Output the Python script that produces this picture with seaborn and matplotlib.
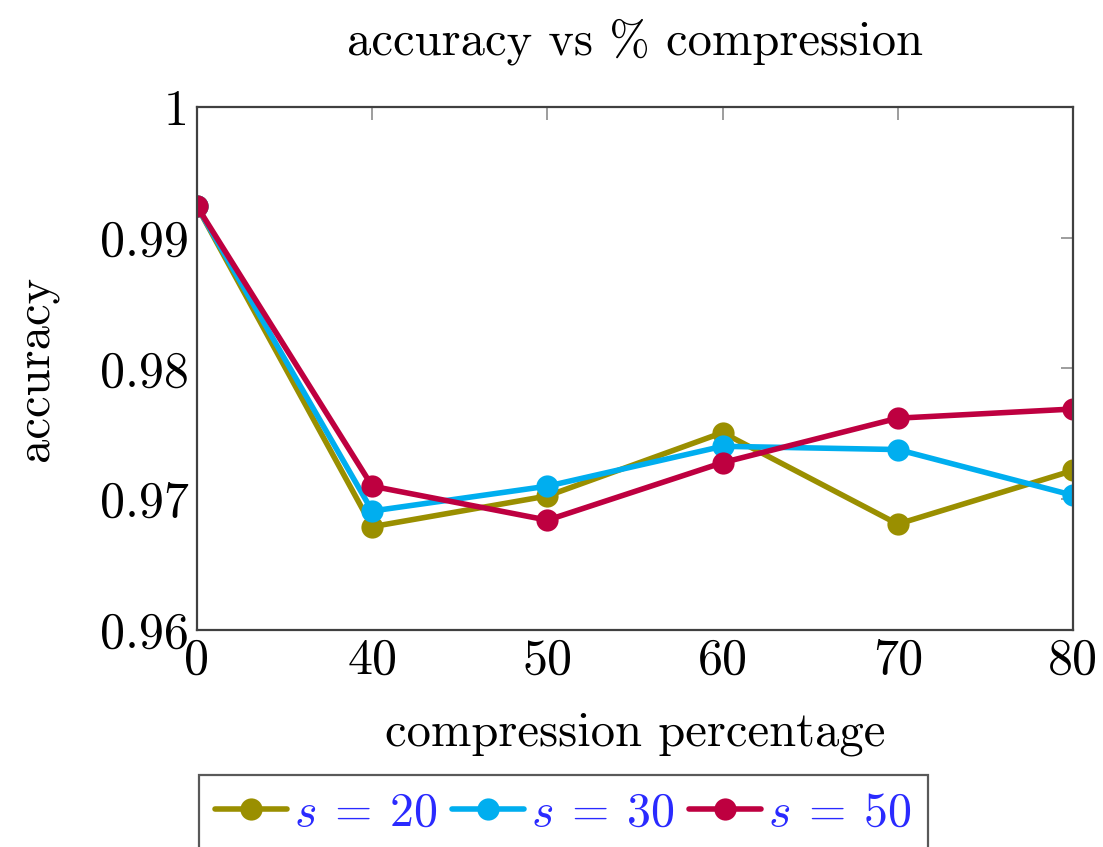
import matplotlib
matplotlib.use("Agg")
import matplotlib.pyplot as plt
import seaborn as sns
import pandas as pd
import numpy as np

categories = ["0", "40", "50", "60", "70", "80"]
s20 = [0.9924, 0.9679, 0.97025, 0.9751, 0.9681, 0.9722]
s30 = [0.9924, 0.9691, 0.9710, 0.97405, 0.9738, 0.9703]
s50 = [0.9924, 0.9710, 0.9684, 0.9728, 0.9762, 0.9769]
series_names = [r"$s\:=\:20$", r"$s\:=\:30$", r"$s\:=\:50$"]
colors = ["#9A8F00", "#00AEEF", "#BE0040"]
yticks = [0.96, 0.97, 0.98, 0.99, 1.0]
ytick_labels = ["0.96", "0.97", "0.98", "0.99", "1"]

sns.set_style("white")
plt.rcParams["font.family"] = ["serif"]
plt.rcParams["font.serif"] = ["cmr10"]
plt.rcParams["mathtext.fontset"] = "cm"
plt.rcParams["axes.unicode_minus"] = False
plt.rcParams["text.color"] = "black"
plt.rcParams["axes.labelcolor"] = "black"
plt.rcParams["xtick.color"] = "black"
plt.rcParams["ytick.color"] = "black"

rows = []
for name, vals in zip(series_names, [s20, s30, s50]):
    for i, v in enumerate(vals):
        rows.append({"pos": i, "accuracy": v, "series": name})
df = pd.DataFrame(rows)

fig = plt.figure(figsize=(11.03, 8.47), dpi=100)
ax = fig.add_axes([0.1786, 0.2562, 0.7942, 0.6175])

sns.lineplot(data=df, x="pos", y="accuracy", hue="series", palette=colors,
             marker="o", markersize=16, markeredgewidth=0, linewidth=4.0,
             ax=ax, legend=True)

ax.set_xlim(0, len(categories) - 1)
ax.set_ylim(0.96, 1.0)
ax.set_xticks(range(len(categories)))
ax.set_xticklabels(categories)
ax.set_yticks(yticks)
ax.set_yticklabels(ytick_labels)
ax.tick_params(direction="in", length=9, width=1.2, color="#8c8c8c",
               labelcolor="black", top=True, right=True, labelsize=36, pad=6)
for sp in ax.spines.values():
    sp.set_color("#404040")
    sp.set_linewidth(1.6)
    sp.set_visible(True)

ax.set_xlabel("compression percentage", fontsize=35, labelpad=20, color="black")
ax.set_ylabel("accuracy", fontsize=35, labelpad=30, color="black")
ax.set_title("accuracy vs % compression", fontsize=35, pad=38, color="black")

handles, labels = ax.get_legend_handles_labels()
leg = ax.legend(handles, labels, loc="upper center", bbox_to_anchor=(0.418, -0.277),
                ncol=3, fontsize=34.5, frameon=True, fancybox=False,
                handlelength=1.5, handletextpad=0.15, columnspacing=0.3,
                borderpad=0.35, borderaxespad=0)
leg.get_frame().set_edgecolor("#303030")
leg.get_frame().set_linewidth(1.6)
for t in leg.get_texts():
    t.set_color("#2a2aff")

fig.savefig("out.png", dpi=100)
